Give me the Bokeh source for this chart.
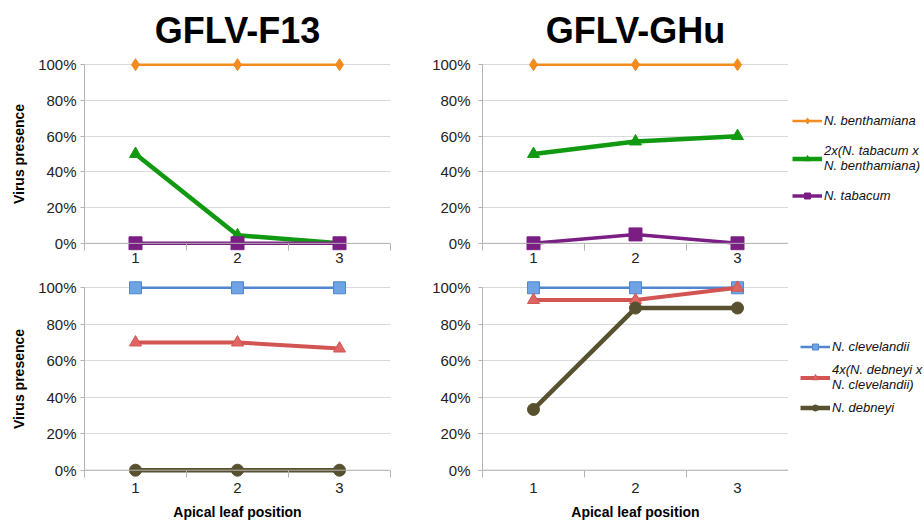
from bokeh.plotting import figure
from bokeh.layouts import column, row
from bokeh.models import Range1d, FixedTicker, NumeralTickFormatter, Legend, LegendItem, Span
from bokeh.embed import file_html
from bokeh.resources import INLINE

# ---------------- data ----------------
positions = [1, 2, 3]
y_ticks = [0.0, 0.2, 0.4, 0.6, 0.8, 1.0]

f13_benthamiana = [1.0, 1.0, 1.0]
f13_tab_x_benth = [0.50, 0.045, 0.0]
f13_tabacum = [0.0, 0.0, 0.0]

ghu_benthamiana = [1.0, 1.0, 1.0]
ghu_tab_x_benth = [0.50, 0.57, 0.60]
ghu_tabacum = [0.0, 0.05, 0.0]

f13_clevelandii = [1.0, 1.0, 1.0]
f13_deb_x_clev = [0.70, 0.70, 0.667]
f13_debneyi = [0.0, 0.0, 0.0]

ghu_clevelandii = [1.0, 1.0, 1.0]
ghu_deb_x_clev = [0.933, 0.933, 1.0]
ghu_debneyi = [0.333, 0.889, 0.889]

top_labels = ["N. benthamiana", "2x(N. tabacum x\nN. benthamiana)", "N. tabacum"]
bottom_labels = ["N. clevelandii", "4x(N. debneyi x\nN. clevelandii)", "N. debneyi"]

# ---------------- styles ----------------
FONT = "Liberation Sans"
GRID = "#d9d9d9"
AXIS = "#b3b3b3"

top_styles = [
    dict(color="#f38b1e", fill="#f38b1e", marker="diamond", size=12, lw=2.5),
    dict(color="#119a11", fill="#119a11", marker="triangle", size=12, lw=4.5),
    dict(color="#7a1e84", fill="#7a1e84", marker="square", size=13, lw=3.5),
]
bottom_styles = [
    dict(color="#4f86cf", fill="#6fa3e3", marker="square", size=12, lw=2.5),
    dict(color="#d25553", fill="#e06664", marker="triangle", size=12, lw=4),
    dict(color="#57512f", fill="#57512f", marker="circle", size=12, lw=4.5),
]

PAD = 0.04


def make_fig(width, height, bl, br, bt, bb, title=None, ylabel=None, xlabel=None,
             ylab_standoff=4, xlab_standoff=2):
    p = figure(width=width, height=height, output_backend="svg", toolbar_location=None,
               x_range=Range1d(0.5, 3.5), y_range=Range1d(-PAD, 1 + PAD),
               min_border_left=bl, min_border_right=br, min_border_top=bt, min_border_bottom=bb,
               background_fill_color="white", border_fill_color="white")
    p.outline_line_color = None
    p.xgrid.visible = False
    p.ygrid.ticker = FixedTicker(ticks=y_ticks)
    p.ygrid.grid_line_color = GRID
    p.ygrid.grid_line_width = 1

    if title:
        p.title.text = title
        p.title.align = "center"
        p.title.text_font = FONT
        p.title.text_font_size = "36px"
        p.title.text_font_style = "bold"
        p.title.text_color = "black"
        p.title.standoff = 13

    xa = p.xaxis[0]
    xa.ticker = FixedTicker(ticks=positions, minor_ticks=[0.5, 1.5, 2.5, 3.5])
    xa.axis_line_color = None
    xa.major_tick_line_color = None
    xa.major_tick_out = 0
    xa.major_tick_in = 0
    xa.minor_tick_line_color = AXIS
    xa.minor_tick_in = 7
    xa.minor_tick_out = 0
    xa.major_label_standoff = xlab_standoff
    xa.major_label_text_font = FONT
    xa.major_label_text_font_size = "15px"
    xa.major_label_text_color = "#222222"
    if xlabel:
        xa.axis_label = xlabel
        xa.axis_label_text_font = FONT
        xa.axis_label_text_font_size = "14px"
        xa.axis_label_text_font_style = "bold"
        xa.axis_label_text_color = "black"
        xa.axis_label_standoff = 8

    ya = p.yaxis[0]
    ya.ticker = FixedTicker(ticks=y_ticks)
    ya.formatter = NumeralTickFormatter(format="0%")
    ya.bounds = (0, 1)
    ya.axis_line_color = AXIS
    ya.major_tick_line_color = AXIS
    ya.major_tick_out = 4
    ya.major_tick_in = 0
    ya.minor_tick_line_color = None
    ya.major_label_standoff = ylab_standoff
    ya.major_label_text_font = FONT
    ya.major_label_text_font_size = "15px"
    ya.major_label_text_color = "#222222"
    if ylabel:
        ya.axis_label = ylabel
        ya.axis_label_text_font = FONT
        ya.axis_label_text_font_size = "14px"
        ya.axis_label_text_font_style = "bold"
        ya.axis_label_text_color = "black"
        ya.axis_label_standoff = 8

    p.add_layout(Span(location=0, dimension="width", line_color=AXIS, line_width=1))
    return p


def add_series(p, series, styles):
    items = []
    for ys, st in zip(series, styles):
        ln = p.line(positions, ys, line_color=st["color"], line_width=st["lw"])
        sc = p.scatter(positions, ys, marker=st["marker"], size=st["size"],
                       fill_color=st["fill"], line_color=st["color"], line_width=1)
        items.append([ln, sc])
    return items


def legend_fig(width, height, series, styles, labels, loc, spacing):
    p = figure(width=width, height=height, output_backend="svg", toolbar_location=None,
               x_axis_location=None, y_axis_location=None, min_border=0,
               x_range=Range1d(0.5, 3.5), y_range=Range1d(-PAD, 1 + PAD),
               background_fill_color="white", border_fill_color="white")
    p.outline_line_color = None
    p.grid.visible = False
    items = add_series(p, series, styles)
    for pair in items:
        for r in pair:
            r.visible = False
    leg = Legend(items=[LegendItem(label=lab, renderers=r) for lab, r in zip(labels, items)],
                 location=loc, orientation="vertical")
    leg.border_line_color = None
    leg.background_fill_alpha = 0
    leg.inactive_fill_alpha = 0
    leg.padding = 0
    leg.margin = 0
    leg.spacing = spacing
    leg.glyph_width = 30
    leg.glyph_height = 15
    leg.label_height = 15
    leg.label_standoff = 2
    leg.label_text_font = FONT
    leg.label_text_font_size = "13px"
    leg.label_text_font_style = "italic"
    leg.label_text_color = "#111111"
    p.add_layout(leg, "center")
    return p


# ---------------- figures ----------------
top_series_f13 = [f13_benthamiana, f13_tab_x_benth, f13_tabacum]
top_series_ghu = [ghu_benthamiana, ghu_tab_x_benth, ghu_tabacum]
bot_series_f13 = [f13_clevelandii, f13_deb_x_clev, f13_debneyi]
bot_series_ghu = [ghu_clevelandii, ghu_deb_x_clev, ghu_debneyi]

tl = make_fig(400, 270, 84, 10, 57, 20, title="GFLV-F13", ylabel="Virus presence", ylab_standoff=4)
add_series(tl, top_series_f13, top_styles)

tr = make_fig(388, 270, 82, 0, 57, 20, title="GFLV-GHu", ylab_standoff=8)
add_series(tr, top_series_ghu, top_styles)

tleg = legend_fig(136, 270, top_series_ghu, top_styles, top_labels, (4, 47), 15)

bl = make_fig(400, 252, 84, 10, 10, 45, ylabel="Virus presence", xlabel="Apical leaf position",
              ylab_standoff=4, xlab_standoff=5)
add_series(bl, bot_series_f13, bottom_styles)

br = make_fig(388, 252, 82, 0, 10, 45, xlabel="Apical leaf position", ylab_standoff=8, xlab_standoff=5)
add_series(br, bot_series_ghu, bottom_styles)

bleg = legend_fig(136, 252, bot_series_ghu, bottom_styles, bottom_labels, (12, 62), 8)

layout = column(row(tl, tr, tleg), row(bl, br, bleg))

open("out.html", "w").write(file_html(layout, INLINE))
